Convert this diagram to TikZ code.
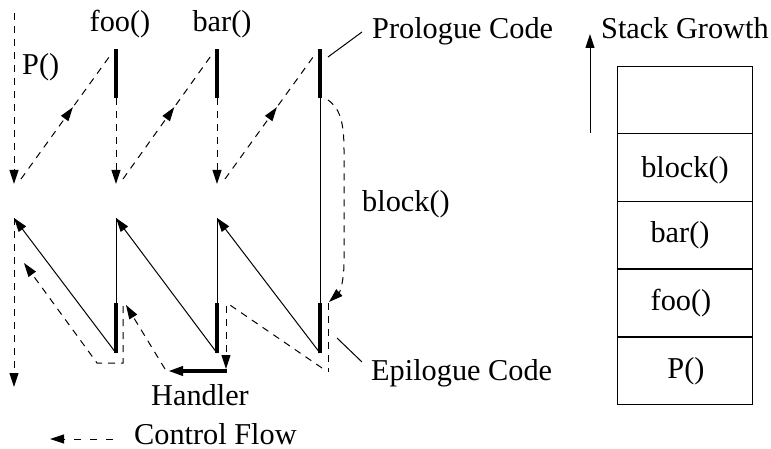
\documentclass[tikz,border=0pt]{standalone}
\usepackage{fontspec}
\setmainfont{Liberation Serif}
\usetikzlibrary{arrows.meta,decorations.markings}

\begin{document}
\begin{tikzpicture}[x=1pt,y=-1pt,
  every node/.style={inner sep=0pt, font=\fontsize{30.3}{36}\selectfont},
  plain/.style={line width=1pt},
  codeseg/.style={line width=3.6pt},
  flow/.style={line width=1pt, dash pattern=on 7pt off 6pt},
  tipend/.style={-{Triangle[length=14pt,width=9pt]}},
  midtip/.style={postaction={decorate},
    decoration={markings, mark=at position 0.57 with {\arrow{Triangle[length=14pt,width=9pt]}}}},
  frame/.style={draw, line width=1pt, minimum width=135pt, minimum height=67.8pt}
]
\useasboundingbox (0,0) rectangle (771,449);

% ---- labels ----
\node[anchor=base west] (lP)   at (22,75)  {P()};
\node[anchor=base]      (lfoo) at (120,32) {foo()};
\node[anchor=base]      (lbar) at (222,32) {bar()};
\node[anchor=base west] (lpro) at (372,39) {Prologue Code};
\node[anchor=base west] (lblk) at (362,212) {block()};
\node[anchor=base west] (lepi) at (371,380) {Epilogue Code};
\node[anchor=base west] (lhnd) at (151,405) {Handler};
\node[anchor=base west] (lcf)  at (134,444) {Control Flow};
\node[anchor=base west] (lsg)  at (601,39) {Stack Growth};

% ---- P() ----
\coordinate (p0) at (14,13);
\coordinate (p1) at (14,184);
\coordinate (p2) at (14,218);
\coordinate (p3) at (14,387);
\draw[flow,tipend] (p0) -- (p1);
\draw[flow,tipend] (p2) -- (p3);

% ---- foo(), bar(), block() columns ----
\foreach \n/\x in {f/116, b/217, k/320} {
  \coordinate (\n0) at (\x,49);
  \coordinate (\n1) at (\x,98);
  \coordinate (\n2) at (\x,184);
  \coordinate (\n3) at (\x,218);
  \coordinate (\n4) at (\x,303);
  \coordinate (\n5) at (\x,353);
}
\draw[codeseg] (f0) -- (f1);
\draw[codeseg] (b0) -- (b1);
\draw[codeseg] (k0) -- (k1);
\draw[flow,tipend] (f1) -- (f2);
\draw[flow,tipend] (b1) -- (b2);
\draw[plain] (k1) -- (k4);
\draw[plain] (f3) -- (f4);
\draw[plain] (b3) -- (b4);
\draw[codeseg] (f4) -- (f5);
\draw[codeseg] (b4) -- (b5);
\draw[codeseg] (k4) -- (k5);

% calls
\coordinate (c1a) at (21,179);  \coordinate (c1b) at (112,53);
\coordinate (c2a) at (123,179); \coordinate (c2b) at (213,53);
\coordinate (c3a) at (225,179); \coordinate (c3b) at (316,53);
\draw[flow,midtip] (c1a) -- (c1b);
\draw[flow,midtip] (c2a) -- (c2b);
\draw[flow,midtip] (c3a) -- (c3b);

% returns
\draw[plain,tipend] (f5) -- (p2);
\draw[plain,tipend] (b5) -- (f3);
\draw[plain,tipend] (k5) -- (b3);

% block() body
\coordinate (bk0) at (328,100);
\coordinate (bk1) at (344,150);
\coordinate (bk2) at (344,262);
\coordinate (bk3) at (329,302);
\draw[flow,tipend] (bk0) .. controls (341,109) and (344,125) .. (bk1)
  -- (bk2) .. controls (344,281) and (340,292) .. (bk3);

% unwinding path
\coordinate (e0) at (328,303);
\coordinate (e1) at (328,372);
\coordinate (e2) at (322,368);
\coordinate (e3) at (227,303);
\coordinate (e4) at (226,306);
\coordinate (e5) at (226,369);
\coordinate (h0) at (227,371);
\coordinate (h1) at (168,371);
\coordinate (g0) at (165,369);
\coordinate (g1) at (126,305);
\coordinate (r0) at (123,306);
\coordinate (r1) at (123,363);
\coordinate (r2) at (97,363);
\coordinate (r3) at (24,263);
\draw[flow] (e0) -- (e1);
\draw[flow] (e2) -- (e3);
\draw[flow,tipend] (e4) -- (e5);
\draw[codeseg,-{Triangle[length=15pt,width=9pt]}] (h0) -- (h1);
\draw[flow,tipend] (g0) -- (g1);
\draw[flow,tipend] (r0) -- (r1) -- (r2) -- (r3);

% callouts
\coordinate (q0) at (328,57);  \coordinate (q1) at (362,32);
\coordinate (q2) at (337,338); \coordinate (q3) at (362,362);
\draw[plain] (q0) -- (q1);
\draw[plain] (q2) -- (q3);

% legend
\coordinate (leg0) at (113,439);
\coordinate (leg1) at (50,439);
\draw[line width=1pt, dash pattern=on 7pt off 9pt,-{Triangle[length=14pt,width=9pt]}] (leg0) -- (leg1);

% ---- stack ----
\coordinate (sg0) at (590,133);
\coordinate (sg1) at (590,34);
\draw[plain,tipend] (sg0) -- (sg1);
\node[frame] (s4) at (684.5,100)   {};
\node[frame] (s3) at (684.5,167.5) {};
\node[frame] (s2) at (684.5,235)   {};
\node[frame] (s1) at (684.5,303)   {};
\node[frame] (s0) at (684.5,371)   {};
\node[anchor=base] (tblk) at (685,178) {block()};
\node[anchor=base] (tbar) at (680,243) {bar()};
\node[anchor=base] (tfoo) at (681,310) {foo()};
\node[anchor=base] (tP)   at (686,378) {P()};
\end{tikzpicture}
\end{document}
